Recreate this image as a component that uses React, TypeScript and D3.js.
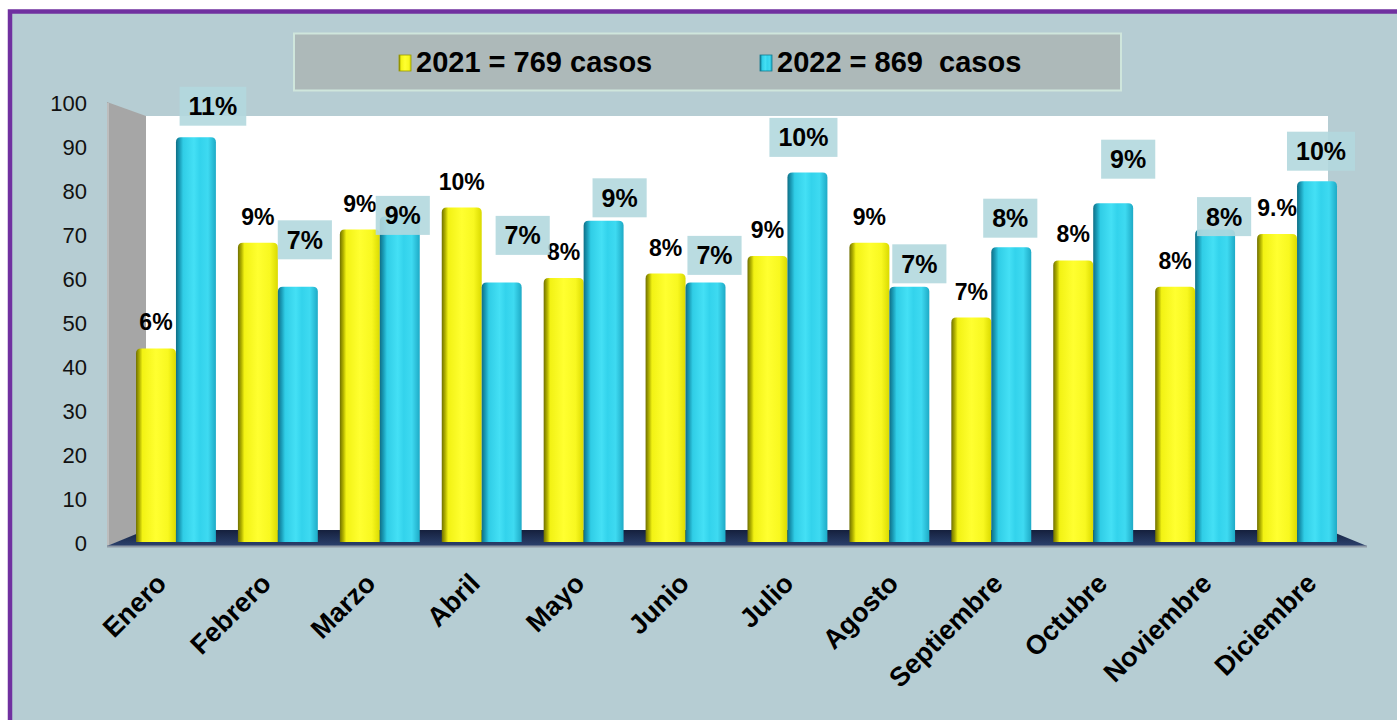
import { useEffect, useRef } from 'react';
import * as d3 from 'd3';

const months = [
  'Enero', 'Febrero', 'Marzo', 'Abril', 'Mayo', 'Junio',
  'Julio', 'Agosto', 'Septiembre', 'Octubre', 'Noviembre', 'Diciembre',
];
const cases2021 = [44, 68, 71, 76, 60, 61, 65, 68, 51, 64, 58, 70];
const cases2022 = [92, 58, 74, 59, 73, 59, 84, 58, 67, 77, 71, 82];
const pct2021 = ['6%', '9%', '9%', '10%', '8%', '8%', '9%', '9%', '7%', '8%', '8%', '9.%'];
const pct2022 = ['11%', '7%', '9%', '7%', '9%', '7%', '10%', '7%', '8%', '9%', '8%', '10%'];
const yTicks = [0, 10, 20, 30, 40, 50, 60, 70, 80, 90, 100];
const series = ['2021', '2022'];
const legendLabels = ['2021 = 769 casos', '2022 = 869  casos'];

// where the 2022 label boxes were dragged to, relative to the bar top centre
const boxNudge = [
  [17, -31], [7, -47], [3, -1], [21, -47], [16, -23], [9, -27],
  [-4, -35], [10, -23], [-1, -29], [15, -44], [9, -13], [4, -30],
];

const FONT = '"Liberation Sans", Arial, sans-serif';

const barPath = (x: number, y: number, w: number, y0: number, r: number) =>
  `M${x},${y0}V${y + r}Q${x},${y} ${x + r},${y}H${x + w - r}Q${x + w},${y} ${x + w},${y + r}V${y0}Z`;

const App = () => {
  const ref = useRef<SVGSVGElement>(null!);

  useEffect(() => {
    const width = 1397;
    const height = 720;
    const svg = d3.select(ref.current).attr('width', width).attr('height', height);

    const defs = svg.append('defs');
    const grad = (id: string, stops: [number, string][]) => {
      const g = defs.append('linearGradient').attr('id', id).attr('x1', 0).attr('x2', 1).attr('y1', 0).attr('y2', 0);
      stops.forEach(([o, c]) => g.append('stop').attr('offset', o).attr('stop-color', c));
    };
    grad('g2021', [
      [0, '#707000'], [0.09, '#b4b400'], [0.16, '#f2f214'], [0.5, '#ffff30'],
      [0.8, '#f8f820'], [1, '#dada00'],
    ]);
    grad('g2022', [
      [0, '#0f6f86'], [0.09, '#1a9bb6'], [0.18, '#30cde6'], [0.45, '#44e0f5'],
      [0.6, '#33d3ec'], [0.8, '#3edaf1'], [1, '#1eaac6'],
    ]);
    const fg = defs.append('linearGradient').attr('id', 'floor').attr('x1', 0).attr('x2', 0).attr('y1', 0).attr('y2', 1);
    fg.append('stop').attr('offset', 0).attr('stop-color', '#15203d');
    fg.append('stop').attr('offset', 1).attr('stop-color', '#2b416d');

    // frame
    svg.append('rect')
      .attr('x', 10).attr('y', 11.5).attr('width', 1420).attr('height', 740)
      .attr('fill', '#b6cdd3').attr('stroke', '#7030a0').attr('stroke-width', 4.5);

    const y = d3.scaleLinear().domain([0, 100]).range([542, 102]);
    const x = d3.scaleBand<string>().domain(months).range([125, 1348]).paddingInner(0.216).paddingOuter(0.108);
    const xs = d3.scaleBand<string>().domain(series).range([0, x.bandwidth()]);
    const labelX = d3.scalePoint<string>().domain(months).range([168, 1318]);

    // walls and floor
    svg.append('rect').attr('x', 146).attr('y', 116).attr('width', 1182).attr('height', 420).attr('fill', '#ffffff');
    svg.append('polygon').attr('points', '107,102 146,116 146,531 107,546').attr('fill', '#a6a6a6');
    svg.append('line').attr('x1', 108).attr('y1', 103).attr('x2', 108).attr('y2', 545).attr('stroke', '#bdbdbd').attr('stroke-width', 2);
    svg.append('polygon').attr('points', '107,546 146,530 1328,530 1367,546').attr('fill', 'url(#floor)');
    svg.append('line').attr('x1', 107).attr('y1', 546.5).attr('x2', 1367).attr('y2', 546.5).attr('stroke', '#8f9aa6').attr('stroke-width', 2);

    // y tick labels
    svg.append('g').selectAll('text').data(yTicks).enter().append('text')
      .attr('x', 87).attr('y', d => y(d) + 9)
      .attr('text-anchor', 'end')
      .attr('font-family', FONT).attr('font-size', 22).attr('fill', '#111')
      .text(d => d);

    // bars
    const values = [cases2021, cases2022];
    series.forEach((s, si) => {
      svg.append('g').selectAll('path').data(months).enter().append('path')
        .attr('d', (m, i) => barPath((x(m) ?? 0) + (xs(s) ?? 0), y(values[si][i]), xs.bandwidth(), y(0), 5))
        .attr('fill', `url(#g${s})`);
    });

    // 2021 labels
    svg.append('g').selectAll('text').data(months).enter().append('text')
      .attr('x', m => (x(m) ?? 0) + (xs('2021') ?? 0) + xs.bandwidth() / 2)
      .attr('y', (m, i) => y(cases2021[i]) - 26 + 8)
      .attr('text-anchor', 'middle')
      .attr('font-family', FONT).attr('font-size', 23).attr('font-weight', 'bold').attr('fill', '#000')
      .text((m, i) => pct2021[i]);

    // 2022 labels in boxes
    const boxes = svg.append('g');
    months.forEach((m, i) => {
      const cx = (x(m) ?? 0) + (xs('2022') ?? 0) + xs.bandwidth() / 2 + boxNudge[i][0];
      const cy = y(cases2022[i]) + boxNudge[i][1];
      const g = boxes.append('g');
      const rect = g.append('rect');
      const t = g.append('text')
        .attr('x', cx).attr('y', cy + 9)
        .attr('text-anchor', 'middle')
        .attr('font-family', FONT).attr('font-size', 25).attr('font-weight', 'bold').attr('fill', '#000')
        .text(pct2022[i]);
      const w = (t.node() as SVGTextElement).getComputedTextLength() + 18;
      rect.attr('x', cx - w / 2).attr('y', cy - 19.5).attr('width', w).attr('height', 39)
        .attr('fill', '#b2d8de').attr('opacity', 0.9);
    });

    // month labels
    svg.append('g').selectAll('text').data(months).enter().append('text')
      .attr('transform', m => `translate(${labelX(m)},585) rotate(-45)`)
      .attr('text-anchor', 'end')
      .attr('font-family', FONT).attr('font-size', 27).attr('font-weight', 'bold').attr('fill', '#000')
      .text(m => m);

    // legend
    svg.append('rect').attr('x', 294).attr('y', 33.5).attr('width', 827).attr('height', 57)
      .attr('fill', '#adb9b9').attr('stroke', '#cfe6dc').attr('stroke-width', 2);
    const legendX = [399, 760];
    series.forEach((s, si) => {
      svg.append('rect').attr('x', legendX[si]).attr('y', 55).attr('width', 12).attr('height', 16)
        .attr('fill', `url(#g${s})`).attr('stroke', si === 0 ? '#9a9a00' : '#137a90').attr('stroke-width', 0.8);
      svg.append('text').attr('x', legendX[si] + 17).attr('y', 72)
        .attr('font-family', FONT).attr('font-size', 29).attr('font-weight', 'bold').attr('fill', '#000')
        .style('white-space', 'pre')
        .text(legendLabels[si]);
    });

    return () => {
      ref.current.innerHTML = '';
    };
  }, []);

  return <svg ref={ref} style={{ position: 'absolute', left: 0, top: 0, display: 'block' }}></svg>;
};

export default App;
